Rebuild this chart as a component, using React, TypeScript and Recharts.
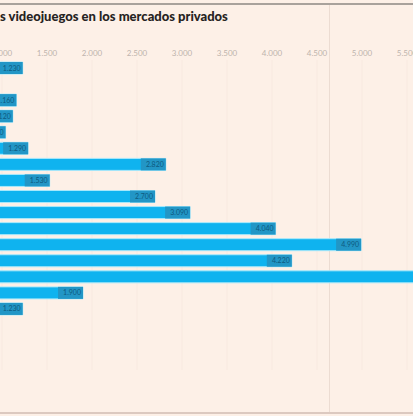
import { Bar, BarChart, CartesianGrid, LabelList, XAxis, YAxis } from "recharts";

const categories = [
  "Cat. 1", "Cat. 2", "Cat. 3", "Cat. 4", "Cat. 5", "Cat. 6", "Cat. 7", "Cat. 8",
  "Cat. 9", "Cat. 10", "Cat. 11", "Cat. 12", "Cat. 13", "Cat. 14", "Cat. 15", "Cat. 16",
];
const values = [1230, 800, 1160, 1120, 1040, 1290, 2820, 1530, 2700, 3090, 4040, 4990, 4220, 6100, 1900, 1230];
const xTicks = [1000, 1500, 2000, 2500, 3000, 3500, 4000, 4500, 5000, 5500];

const data = categories.map((name, i) => ({ name, value: values[i] }));

const fmt = (v: number) => String(v).replace(/\B(?=(\d{3})+(?!\d))/g, ".");

function ValueLabel(props: any) {
  const { x, y, width, height, value } = props;
  const txt = fmt(value);
  const w = txt.length * 4.2 + 4;
  const right = x + width;
  return (
    <g>
      <rect x={right - w} y={y} width={w} height={height} fill="#2296c6" />
      <text x={right - 2} y={y + height / 2 + 2.5} textAnchor="end" fontSize={7} fill="#0e5a80" fontFamily="Lato">
        {txt}
      </text>
    </g>
  );
}

export default function App() {
  return (
    <div style={{ position: "fixed", left: 0, top: 0, width: 413, height: 416, overflow: "hidden", background: "#fdf0e7" }}>
      <div style={{ position: "absolute", left: 0, top: 3, width: 413, height: 2, background: "#a9a29c" }} />
      <div style={{ position: "absolute", left: 0, top: 412, width: 413, height: 2, background: "#dcc9c0" }} />
      <div style={{ position: "absolute", left: 329, top: 5, width: 1, height: 407, background: "#ecdcd2" }} />
      <div style={{ position: "absolute", left: 0, top: 8, fontFamily: "Lato", fontWeight: 900, fontSize: 13, color: "#262322", whiteSpace: "nowrap" }}>
        s videojuegos en los mercados privados
      </div>
      <div style={{ position: "absolute", left: -88, top: 0 }}>
        <BarChart
          width={585}
          height={370}
          data={data}
          layout="vertical"
          margin={{ top: 30, right: 0, bottom: 0, left: 0 }}
          barSize={12}
        >
          <CartesianGrid horizontal={false} stroke="#f8e9e0" />
          <XAxis
            type="number"
            orientation="top"
            domain={[0, 6500]}
            ticks={xTicks}
            tickFormatter={fmt}
            axisLine={false}
            tickLine={false}
            tickSize={2}
            tick={{ fill: "#bdb4ad", fontSize: 8, fontFamily: "Lato" }}
            interval={0}
            height={30}
          />
          <YAxis type="category" dataKey="name" hide padding={{ top: 0, bottom: 53 }} />
          <Bar dataKey="value" fill="#0fb3ef" stroke="#a8e8fb" strokeWidth={1} isAnimationActive={false}>
            <LabelList dataKey="value" content={ValueLabel} />
          </Bar>
        </BarChart>
      </div>
    </div>
  );
}
